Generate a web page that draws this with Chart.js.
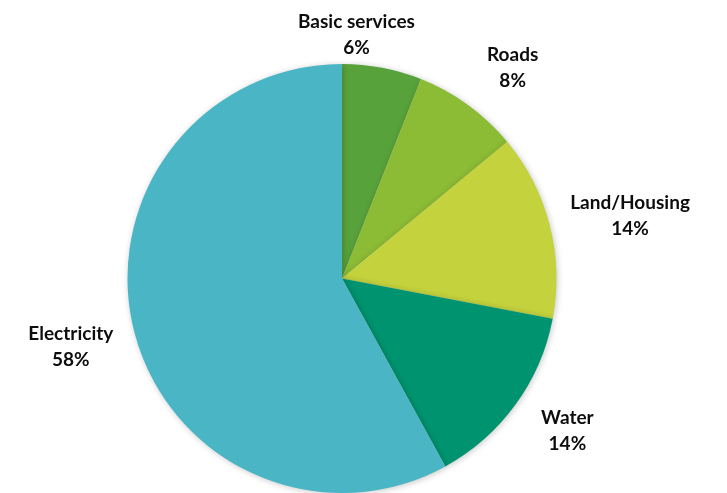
<!DOCTYPE html>
<html>
<head>
<meta charset="utf-8">
<script src="https://cdn.jsdelivr.net/npm/chart.js@4/dist/chart.umd.min.js"></script>
<style>
  html,body{margin:0;padding:0;background:#fff;}
  #wrap{width:727px;height:493px;position:relative;}
</style>
</head>
<body>
<div id="wrap"><canvas id="pie"></canvas></div>
<script>
// ── data ──
const categories = ['Basic services', 'Roads', 'Land/Housing', 'Water', 'Electricity'];
const shares = [6, 8, 14, 14, 58];
const sliceColors = ['#58A23B', '#8CBB35', '#C4D23D', '#00936F', '#4AB5C4'];

// label nudges (layout only) – Excel's best-fit placement isn't purely radial
const LABEL_NUDGE = [[-41, 14], [16, 2], [0, 3], [12, -2], [0, 3]];
const LABEL_GAP = 23;
const LINE_H = 26;

const shadowPlugin = {
  id: 'pieShadow',
  beforeDatasetDraw(chart) {
    const c = chart.ctx;
    c.save();
    c.shadowColor = 'rgba(0,0,0,0.22)';
    c.shadowBlur = 6;
    c.shadowOffsetX = 1;
    c.shadowOffsetY = 1;
  },
  afterDatasetDraw(chart) { chart.ctx.restore(); }
};

const labelPlugin = {
  id: 'outLabels',
  afterDatasetsDraw(chart) {
    const c = chart.ctx;
    const meta = chart.getDatasetMeta(0);
    c.save();
    c.font = 'bold 19px Lato, "Open Sans", sans-serif';
    c.fillStyle = '#0d0d0d';
    c.textAlign = 'center';
    c.textBaseline = 'middle';
    meta.data.forEach((arc, i) => {
      const mid = (arc.startAngle + arc.endAngle) / 2;
      const dx = Math.cos(mid), dy = Math.sin(mid);
      const r = arc.outerRadius + LABEL_GAP;
      const l1 = categories[i], l2 = shares[i] + '%';
      const w = Math.max(c.measureText(l1).width, c.measureText(l2).width);
      const h = 50;
      const cx = arc.x + dx * r + dx * w / 2 + LABEL_NUDGE[i][0];
      const cy = arc.y + dy * r + dy * h / 2 + LABEL_NUDGE[i][1];
      c.fillText(l1, cx, cy - LINE_H / 2);
      c.fillText(l2, cx, cy + LINE_H / 2);
    });
    c.restore();
  }
};

new Chart(document.getElementById('pie'), {
  type: 'pie',
  data: {
    labels: categories,
    datasets: [{ data: shares, backgroundColor: sliceColors, borderWidth: 0 }]
  },
  options: {
    responsive: true,
    maintainAspectRatio: false,
    animation: false,
    layout: { padding: { top: 64, bottom: 0, left: 0, right: 43 } },
    plugins: { legend: { display: false }, tooltip: { enabled: false } }
  },
  plugins: [shadowPlugin, labelPlugin]
});
</script>
</body>
</html>
